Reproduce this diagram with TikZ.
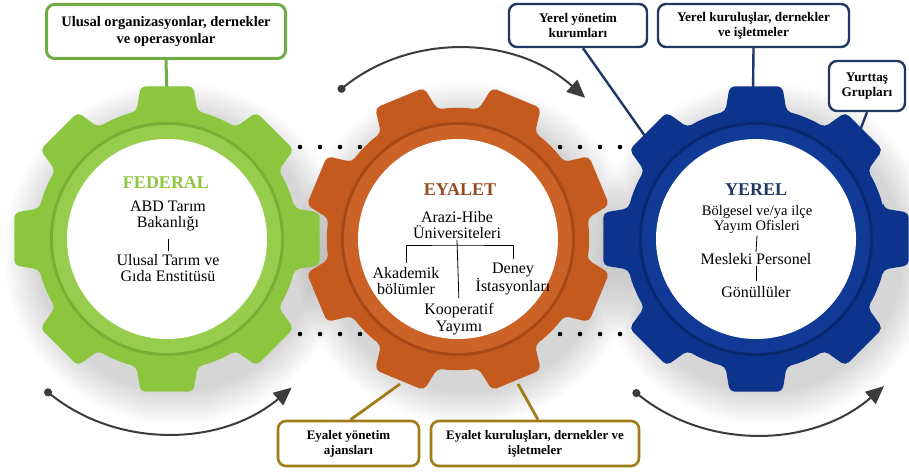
\documentclass[tikz,border=0pt]{standalone}
\usepackage{fontspec}
\setmainfont{Liberation Serif}
\usetikzlibrary{arrows.meta,fadings}
\definecolor{gbody}{RGB}{140,198,63}
\definecolor{gring}{RGB}{150,205,76}
\definecolor{gedge}{RGB}{118,175,52}
\definecolor{obody}{RGB}{196,90,30}
\definecolor{oring}{RGB}{204,98,38}
\definecolor{oedge}{RGB}{168,72,22}
\definecolor{bbody}{RGB}{12,52,140}
\definecolor{bring}{RGB}{16,58,150}
\definecolor{bedge}{RGB}{8,40,112}
\definecolor{gbord}{RGB}{112,173,71}
\definecolor{bbord}{RGB}{31,56,100}
\definecolor{obord}{RGB}{160,125,25}
\definecolor{fedc}{RGB}{141,198,63}
\definecolor{eyc}{RGB}{150,75,30}
\definecolor{yrc}{RGB}{31,56,100}
\definecolor{arrc}{RGB}{60,60,60}
\newcommand{\myshadow}[1]{%
  \begin{scope}[shift={(#1)}]
    \fill[black, fill opacity=0.16, path fading=circle with fuzzy edge 20 percent] (8,14) circle[radius=172];
  \end{scope}}
\newcommand{\mygear}[5]{%
  \begin{scope}[shift={(#1)}]
    \fill[#3, rounded corners=5pt] ({#2-13.5}:131)
      \foreach \i in {0,...,7}{ -- ({#2+\i*45-9.8}:155) -- ({#2+\i*45+9.8}:155) -- ({#2+\i*45+13.5}:131)
        arc[start angle={#2+\i*45+13.5}, end angle={#2+\i*45+31.5}, radius=131] } -- cycle;
    \fill[#4] (0,0) circle[radius=117];
    \fill[#5] (0,0) circle[radius=114];
    \fill[white] (0,0) circle[radius=100];
  \end{scope}}
\tikzset{
  boxbase/.style={fill=white, rounded corners=8pt, align=center, inner sep=2pt, text=black},
  gbox/.style={boxbase, draw=gbord, line width=3pt, font=\fontsize{14.5}{17}\selectfont\bfseries},
  bbox/.style={boxbase, draw=bbord, line width=2.4pt, font=\fontsize{13.2}{15}\selectfont\bfseries},
  obox/.style={boxbase, draw=obord, line width=2.6pt, font=\fontsize{13}{15}\selectfont\bfseries},
  gline/.style={draw=gbord, line width=3pt},
  bline/.style={draw=bbord, line width=2.4pt},
  oline/.style={draw=obord, line width=2.8pt},
  gtxt/.style={font=\fontsize{16}{16.5}\selectfont, align=center, inner sep=1pt},
  gtitle/.style={font=\fontsize{18}{18}\selectfont\bfseries, inner sep=0pt},
  tline/.style={draw=black, line width=0.8pt},
  arrowst/.style={draw=arrc, line width=2pt, {Circle[length=8pt]}-{Triangle[length=18pt,width=16pt]}},
  dotst/.style={fill=black}
}
\begin{document}
\begin{tikzpicture}[x=1pt,y=-1pt]
\fill[white] (0,0) rectangle (909,473);
\useasboundingbox (0,0) rectangle (909,473);
% centers
\coordinate (gG) at (167,239);
\coordinate (gO) at (458,239);
\coordinate (gB) at (756,239);
% shadows
\myshadow{167,239}
\myshadow{458,239}
\myshadow{756,239}
% boxes
\node[gbox, minimum width=239pt, minimum height=54pt] (bU) at (166,31.5) {Ulusal organizasyonlar, dernekler\\ve operasyonlar};
\node[bbox, minimum width=138pt, minimum height=43pt] (bY1) at (578,25.5) {Yerel yönetim\\kurumları};
\node[bbox, minimum width=191pt, minimum height=43pt] (bY2) at (753.5,25.5) {Yerel kuruluşlar, dernekler\\ve işletmeler};
\node[bbox, minimum width=76pt, minimum height=50pt] (bY3) at (867,86) {Yurttaş\\Grupları};
\node[obox, minimum width=141pt, minimum height=45pt] (bE1) at (348.5,443.5) {Eyalet yönetim\\ajansları};
\node[obox, minimum width=208pt, minimum height=45pt] (bE2) at (535,443.5) {Eyalet kuruluşları, dernekler ve\\işletmeler};
% connector ends on gears
\coordinate (gGt) at (167,95);
\coordinate (gBt) at (753,95);
\coordinate (gBl) at (652,146);
\coordinate (gBr) at (856,141);
\coordinate (gOl) at (400,384);
\coordinate (gOr) at (518,384);
\draw[gline] (bU.south) -- (gGt);
\draw[bline] ([xshift=5pt]bY1.south) -- (gBl);
\draw[bline] (bY2.south) -- (gBt);
\draw[bline] (bY3.south) -- (gBr);
\draw[oline] ([xshift=2pt]bE1.north) -- (gOl);
\draw[oline] ([xshift=3pt]bE2.north) -- (gOr);
% gears
\mygear{167,239}{0}{gbody}{gedge}{gring}
\mygear{458,239}{22.5}{obody}{oedge}{oring}
\mygear{756,239}{0}{bbody}{bedge}{bring}
% federal text
\node[gtitle, text=fedc] (fedT) at (166,183) {FEDERAL};
\node[gtxt] (fed1) at (168,216) {ABD Tarım\\Bakanlığı};
\node[gtxt] (fed2) at (168,268) {Ulusal Tarım ve\\Gıda Enstitüsü};
\draw[tline, shorten <=7pt, shorten >=2pt] (fed1.south) -- (fed2.north);
% eyalet text
\node[gtitle, text=eyc] (eyT) at (460,190) {EYALET};
\node[gtxt] (uni) at (457,225) {Arazi-Hibe\\Üniversiteleri};
\node[gtxt] (akad) at (406,281) {Akademik\\bölümler};
\node[gtxt] (deney) at (513,279) {Deney\\İstasyonları};
\node[gtxt] (koop) at (459,319) {Kooperatif\\Yayımı};
\coordinate (brk) at (456,245);
\draw[tline, shorten <=3pt, shorten >=3pt] (akad.north) |- (brk) -| (deney.north);
\draw[tline, shorten >=4pt] (uni.south) -- (koop.north);
% yerel text
\node[gtitle, text=yrc] (yrT) at (756,190) {YEREL};
\node[gtxt, font=\fontsize{14.5}{15}\selectfont] (bolg) at (757,220) {Bölgesel ve/ya ilçe\\Yayım Ofisleri};
\node[gtxt] (mesl) at (756,259) {Mesleki Personel};
\node[gtxt] (gonu) at (756,292) {Gönüllüler};
\draw[tline] (bolg.south) -- (mesl.north);
\draw[tline, shorten >=4pt] (mesl.south) -- (gonu.north);
% dots
\foreach \x in {300,320,340,360,560,580,600,620}{
  \fill[dotst] (\x,147) circle[radius=2.3];
  \fill[dotst] (\x,334) circle[radius=2.3];
}
% arrows
\path (gO) ++(-129:190) coordinate (arrT);
\path (gG) ++(129:194) coordinate (arrL);
\path (gB) ++(129:195) coordinate (arrR);
\draw[arrowst] (arrT) arc[start angle=-129, end angle=-48, radius=190];
\draw[arrowst] (arrL) arc[start angle=129, end angle=50, radius=194];
\draw[arrowst] (arrR) arc[start angle=129, end angle=49, radius=195];
\end{tikzpicture}
\end{document}
